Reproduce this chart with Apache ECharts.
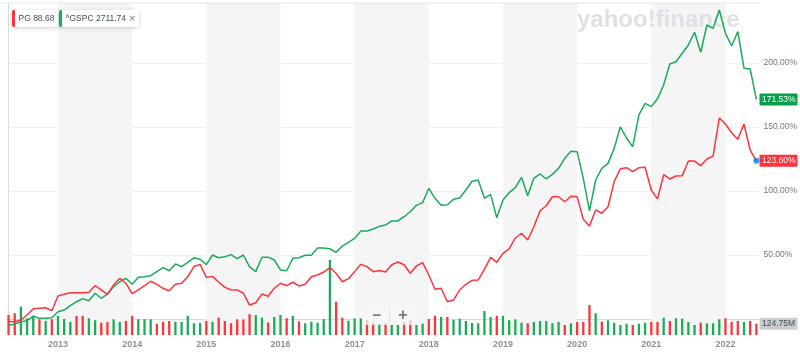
<!DOCTYPE html>
<html>
<head>
<meta charset="utf-8">
<script src="https://cdn.jsdelivr.net/npm/echarts@6/dist/echarts.min.js"></script>
<style>html,body{margin:0;padding:0;background:#fff}#c{width:800px;height:356px}</style>
</head>
<body>
<div id="c"></div>
<script>
// Monthly points from May 2012 (index 0) to June 2022 (index 121), % change since start
const startYear = 2012, startMonth = 4; // May (0-based)
const yearTickIndex = [8, 20, 32, 44, 56, 68, 80, 92, 104, 116];
const yTicks = [50, 100, 150, 200];

const pgPct = [
 -2.0,-2.1,-0.8,3.1,8.0,8.4,8.8,6.5,18.0,19.3,
 20.5,20.5,20.5,20.9,26.0,22.7,19.3,26.6,31.8,27.9,
 19.8,22.7,26.0,29.5,27.1,24.0,22.1,27.1,27.9,33.0,
 41.0,42.7,32.4,33.3,28.9,24.7,22.9,22.7,20.1,10.9,
 12.7,19.5,17.8,24.0,27.9,26.0,28.7,25.8,27.1,33.0,
 34.4,36.7,40.2,35.7,29.1,31.5,37.0,42.7,40.9,37.0,
 37.9,36.7,42.4,44.5,42.4,35.7,41.4,44.0,34.4,23.2,
 24.0,13.5,14.8,22.7,27.1,30.2,30.5,38.8,48.2,44.3,
 51.3,54.7,63.3,67.0,61.7,72.1,84.6,88.5,95.5,95.5,
 91.6,95.9,95.5,77.9,72.7,85.2,82.6,87.7,107.3,117.4,
 118.2,115.1,118.2,118.5,100.8,93.8,112.7,109.4,111.7,112.0,
 123.4,123.4,119.8,125.0,127.3,157.0,152.3,145.5,140.4,152.3,
 132.0,123.60
];

const gspcPct = [
 -5.0,-3.9,-2.1,-1.3,2.3,0.5,0.5,1.0,5.7,7.0,
 10.4,13.5,15.9,14.3,20.1,16.2,19.5,25.2,29.1,31.8,
 27.1,32.6,33.0,33.8,37.0,40.1,37.7,43.0,40.9,44.3,
 47.8,46.7,42.5,50.0,47.9,48.7,50.3,47.2,50.0,40.7,
 37.0,48.3,48.3,46.1,38.3,37.7,47.4,47.9,49.8,49.8,
 55.5,55.5,54.9,52.1,57.0,59.9,63.0,68.8,68.8,70.3,
 72.4,73.4,76.6,76.6,79.9,83.8,88.8,90.9,102.1,94.3,
 88.8,89.3,93.5,94.5,100.8,107.6,108.6,94.3,97.4,79.1,
 93.0,98.7,102.6,110.7,96.3,109.9,113.3,109.4,113.0,117.7,
 125.5,131.0,130.7,109.9,84.4,108.6,117.7,121.6,133.3,150.2,
 141.2,134.6,159.4,168.5,165.9,172.0,182.8,199.2,201.0,207.6,
 214.1,224.0,208.4,229.7,227.1,241.4,223.2,213.3,224.5,195.9,
 195.3,171.53
];

// PG monthly volume, millions
const volume = [
 220,239,311,184,198,173,154,173,209,176,
 143,209,209,184,162,135,143,173,143,154,
 209,173,173,173,124,146,154,146,143,209,
 129,132,154,143,190,154,129,173,171,228,
 220,190,138,198,220,184,209,149,129,146,
 135,174,825,365,190,157,182,182,165,132,
 121,132,110,110,143,165,110,124,176,212,
 198,198,168,179,154,132,129,264,198,212,
 212,162,173,135,129,143,154,154,129,143,
 110,129,143,143,330,239,146,162,135,110,
 124,110,124,135,143,143,190,154,184,179,
 143,110,135,129,129,173,184,143,154,143,
 154,124.75
];
// 1 = up month (green), 0 = down month (red)
const volumeUp = [
 0,0,1,1,1,0,1,0,1,1,
 1,0,0,1,1,0,0,1,1,0,
 0,1,1,1,0,0,0,1,1,1,
 1,1,0,1,0,0,0,0,0,0,
 1,1,0,1,1,0,1,0,1,1,
 1,1,1,0,0,1,1,1,0,0,
 1,0,1,1,0,0,1,1,0,0,
 1,0,1,1,1,1,1,1,1,0,
 1,1,1,1,0,1,1,1,1,1,
 0,1,0,0,0,1,0,1,1,1,
 1,0,1,1,0,0,1,0,1,1,
 1,1,0,1,1,1,0,0,0,1,
 0,0
];

const legendPG = 'PG 88.68';
const legendGSPC = '^GSPC 2711.74';
const shadedYears = [[8,20],[32,44],[56,68],[80,92],[104,116]];

const RED = '#ff333a', GREEN = '#1bab5a', BLUE = '#0081f2';
const FONT = 'Liberation Sans';

const chart = echarts.init(document.getElementById('c'), null, {renderer: 'canvas'});

const option = {
  animation: false,
  textStyle: {fontFamily: FONT},
  grid: {left: 7, right: 40.5, top: 3, bottom: 21},
  xAxis: {
    type: 'value', min: -0.25, max: 121.5,
    splitLine: {show: false},
    axisLine: {show: true, lineStyle: {color: '#dcdcdc'}},
    axisTick: {show: true, length: 3, customValues: yearTickIndex, lineStyle: {color: '#cfcfcf'}},
    axisLabel: {
      customValues: yearTickIndex, margin: 5, color: '#8d9196', fontSize: 9, fontWeight: 'bold',
      formatter: v => String(startYear + Math.floor((startMonth + v) / 12))
    }
  },
  yAxis: [{
    type: 'value', position: 'right', min: -12.5, max: 246.875,
    axisLine: {show: true, lineStyle: {color: '#dcdcdc'}},
    axisTick: {show: false, customValues: yTicks},
    axisLabel: {customValues: yTicks, margin: 4, color: '#6e7780', fontSize: 8.5,
      formatter: v => v.toFixed(2) + '%'},
    splitLine: {show: true, lineStyle: {color: '#f0f0f0'}}
  }, {
    type: 'value', min: 0, max: 3652, show: false, splitLine: {show: false}
  }],
  series: [{
    type: 'line', data: [], z: 0, silent: true,
    markArea: {silent: true, itemStyle: {color: '#f5f5f5'},
      data: shadedYears.map(r => [{xAxis: r[0]}, {xAxis: r[1]}])}
  }, {
    type: 'bar', yAxisIndex: 1, barWidth: 2.3, z: 2, silent: true,
    data: volume.map((v, i) => ({value: [i, v], itemStyle: {color: volumeUp[i] ? GREEN : RED}}))
  }, {
    type: 'line', name: 'GSPC', data: gspcPct.map((v, i) => [i, v]), showSymbol: false, z: 3,
    lineStyle: {color: GREEN, width: 1.5}, itemStyle: {color: GREEN}
  }, {
    type: 'line', name: 'PG', data: pgPct.map((v, i) => [i, v]), showSymbol: false, z: 4,
    lineStyle: {color: RED, width: 1.5}, itemStyle: {color: RED}
  }, {
    type: 'scatter', data: [[pgPct.length - 1, pgPct[pgPct.length - 1]]], z: 5,
    symbolSize: 6, itemStyle: {color: BLUE}
  }]
};
chart.setOption(option);

const last = pgPct.length - 1;
const yPG = chart.convertToPixel({yAxisIndex: 0}, pgPct[last]);
const yG = chart.convertToPixel({yAxisIndex: 0}, gspcPct[last]);
const yV = chart.convertToPixel({yAxisIndex: 1}, volume[last]);

function tag(y, text, bg, fg) {
  return [
    {type: 'rect', z: 100, shape: {x: 759.5, y: y - 6, width: 38, height: 12, r: 1}, style: {fill: bg}},
    {type: 'text', z: 101, x: 762, y: y, style: {text: text, fill: fg, font: '8.5px ' + FONT, textVerticalAlign: 'middle'}}
  ];
}
function chip(x, w, color, text, withX) {
  const ch = [
    {type: 'rect', z: 100, shape: {x: x, y: 10, width: w, height: 17, r: 2},
      style: {fill: '#fff', shadowBlur: 4, shadowColor: 'rgba(0,0,0,0.18)', shadowOffsetY: 1}},
    {type: 'rect', z: 101, shape: {x: x, y: 10, width: 3, height: 17, r: [2, 0, 0, 2]}, style: {fill: color}},
    {type: 'text', z: 101, x: x + 6.5, y: 18.5, style: {text: text, fill: '#464e56', font: '8.5px ' + FONT, textVerticalAlign: 'middle'}}
  ];
  if (withX) ch.push({type: 'text', z: 101, x: x + w - 10, y: 18.5, style: {text: '×', fill: '#6e7780', font: '11px ' + FONT, textVerticalAlign: 'middle'}});
  return ch;
}

chart.setOption({
  graphic: [].concat(
    [{type: 'text', z: 1, x: 577, y: 8, silent: true,
      style: {text: 'yahoo!finance', fill: '#dfe1e6', font: 'bold 24px ' + FONT}},
    {type: 'line', z: 50, shape: {x1: 0, y1: 3, x2: 760, y2: 3}, style: {stroke: '#e6e6e6', lineWidth: 1}}],
    chip(12, 46, RED, legendPG, false),
    chip(59, 80, GREEN, legendGSPC, true),
    tag(yG, gspcPct[last].toFixed(2) + '%', '#07a04a', '#fff'),
    tag(yPG, pgPct[last].toFixed(2) + '%', RED, '#fff'),
    tag(yV, volume[last].toFixed(2) + 'M', '#c9ccd1', '#464e56'),
    [{type: 'rect', z: 60, shape: {x: 363, y: 306, width: 53, height: 19, r: 3}, style: {fill: 'rgba(246,246,246,0.75)'}},
     {type: 'line', z: 61, shape: {x1: 389.5, y1: 308, x2: 389.5, y2: 323}, style: {stroke: '#e2e2e2'}},
     {type: 'text', z: 61, x: 377, y: 315.5, style: {text: '−', fill: '#777', font: 'bold 15px ' + FONT, textAlign: 'center', textVerticalAlign: 'middle'}},
     {type: 'text', z: 61, x: 403, y: 315.5, style: {text: '+', fill: '#777', font: 'bold 16px ' + FONT, textAlign: 'center', textVerticalAlign: 'middle'}}]
  )
});
</script>
</body>
</html>
